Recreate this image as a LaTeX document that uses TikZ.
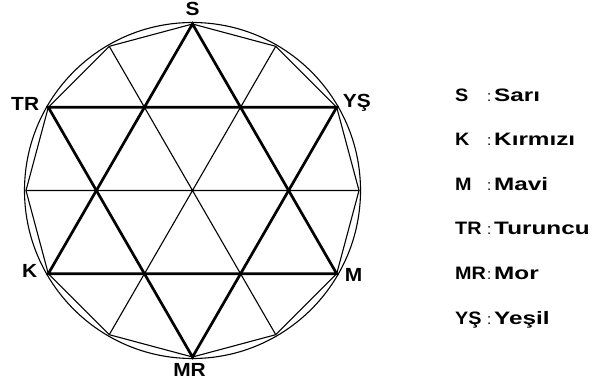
\documentclass[tikz,border=0pt]{standalone}
\usepackage{fontspec}
\setmainfont{Liberation Sans}
\newfontfamily\legnamefont[FakeStretch=1.35]{Liberation Sans}
\newfontfamily\lblfont[FakeStretch=1.1]{Liberation Sans}
\usetikzlibrary{calc}
\begin{document}
\begin{tikzpicture}[x=1pt,y=1pt,
  thinline/.style={line width=1.1pt},
  thickline/.style={line width=2.7pt, line join=miter},
  lbl/.style={font=\lblfont\fontsize{19}{19}\selectfont\bfseries, inner sep=0pt},
  legab/.style={font=\lblfont\fontsize{18}{18}\selectfont\bfseries, inner sep=0pt, anchor=base west},
  legcol/.style={font=\fontsize{15}{15}\selectfont, inner sep=0pt, anchor=base west},
  legname/.style={font=\legnamefont\fontsize{18}{18}\selectfont\bfseries, inner sep=0pt, anchor=base west}]
\useasboundingbox (0,0) rectangle (605,386);
\coordinate (C) at (192.5,195.5);
\foreach \i in {0,...,11} \coordinate (v\i) at ($(C)+(\i*30:166.5)$);
% circle and 12-gon
\draw[thinline] (C) circle (168);
\draw[thinline] (v0)--(v1)--(v2)--(v3)--(v4)--(v5)--(v6)--(v7)--(v8)--(v9)--(v10)--(v11)--cycle;
% diameters
\draw[thinline] (v0)--(v6) (v2)--(v8) (v4)--(v10);
% hexagram
\draw[thickline] (v3)--(v7)--(v11)--cycle;
\draw[thickline] (v9)--(v5)--(v1)--cycle;
% vertex labels
\node[lbl, anchor=base] (lS) at ([yshift=8]v3) {S};
\node[lbl, anchor=base west] (lYS) at ([xshift=6]v1) {YŞ};
\node[lbl, anchor=base east] (lTR) at ([xshift=-9,yshift=-3]v5) {TR};
\node[lbl, anchor=base east] (lK) at ([xshift=-11,yshift=-4]v7) {K};
\node[lbl, anchor=base west] (lM) at ([xshift=8,yshift=-8]v11) {M};
\node[lbl, anchor=base] (lMR) at ([xshift=-3,yshift=-19]v9) {MR};
% legend
\foreach \ab/\nm/\yy [count=\k] in {S/Sarı/284.5, K/Kırmızı/240, M/Mavi/195.5, TR/Turuncu/151, MR/Mor/106.5, YŞ/Yeşil/62}{
  \node[legab] (a\k) at (455,\yy) {\ab};
  \node[legcol] (c\k) at (487,\yy) {:};
  \node[legname] (n\k) at (494,\yy) {\nm};
}
\end{tikzpicture}
\end{document}
